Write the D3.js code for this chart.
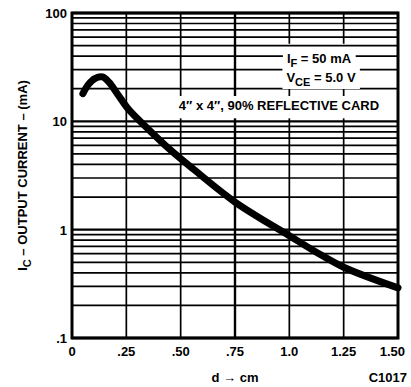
<!DOCTYPE html>
<meta charset="utf-8" />
<style>
  body { margin: 0; background: #fff; }
  text { font-family: "Liberation Sans", Arial, sans-serif; font-weight: bold; fill: #000; }
  .minor { stroke: #000; stroke-width: 1.7; }
  .major { stroke: #000; stroke-width: 2.4; }
  .frame { fill: none; stroke: #000; stroke-width: 3; }
  .curve { fill: none; stroke: #000; stroke-width: 7; stroke-linecap: round; stroke-linejoin: round; }
</style>
<body>
  <div id="chart"></div>
  <script src="https://d3js.org/d3.v7.min.js"></script>
  <script>
    // distance d (cm) vs output current Ic (mA)
    const dist = [0.05, 0.075, 0.105, 0.14, 0.17, 0.21, 0.26, 0.35, 0.45, 0.56, 0.75, 1.0, 1.13, 1.25, 1.5];
    const current = [18, 21.8, 24.8, 25.7, 23, 17.8, 12.9, 8.5, 5.5, 3.6, 1.8, 0.88, 0.61, 0.45, 0.29];

    const xTicks = [0, 0.25, 0.5, 0.75, 1.0, 1.25, 1.5];
    const xTickLabels = ["0", ".25", ".50", ".75", "1.0", "1.25", "1.50"];
    const yTicks = [0.1, 1, 10, 100];
    const yTickLabels = [".1", "1", "10", "100"];

    const W = 411, H = 387;
    const m = { top: 13, right: 13, bottom: 49, left: 72 };

    const svg = d3.select("#chart").append("svg")
      .attr("width", W).attr("height", H);

    const x = d3.scaleLinear().domain([0, 1.5]).range([m.left, W - m.right]);
    const y = d3.scaleLog().domain([0.1, 100]).range([H - m.bottom, m.top]);

    // minor log grid values 0.2..90
    const minorY = [];
    [0.1, 1, 10].forEach((dec) => {
      for (let k = 2; k <= 9; k++) minorY.push(dec * k);
    });

    const gGrid = svg.append("g");
    const gBack = svg.append("g");
    const gText = svg.append("g");

    // vertical grid
    gGrid.selectAll(".vline").data(xTicks.slice(1, -1)).enter().append("line")
      .attr("class", (d) => (d === 0.75 ? "major" : "minor"))
      .attr("x1", (d) => x(d)).attr("x2", (d) => x(d))
      .attr("y1", y(100)).attr("y2", y(0.1));

    // legend area hides vertical lines
    gGrid.append("rect")
      .attr("x", x(0.9)).attr("y", y(52))
      .attr("width", x(1.5) - x(0.9)).attr("height", y(21) - y(52))
      .attr("fill", "#fff");

    // horizontal grid
    gGrid.selectAll(".hminor").data(minorY).enter().append("line")
      .attr("class", "minor")
      .attr("x1", x(0)).attr("x2", x(1.5))
      .attr("y1", (d) => y(d)).attr("y2", (d) => y(d));
    gGrid.selectAll(".hmajor").data(yTicks).enter().append("line")
      .attr("class", "major")
      .attr("x1", x(0)).attr("x2", x(1.5))
      .attr("y1", (d) => y(d)).attr("y2", (d) => y(d));

    // legend texts with white backgrounds
    const legend = [
      { main: "I", sub: "F", rest: " = 50 mA", cx: 319, by: 63 },
      { main: "V", sub: "CE", rest: " = 5.0 V", cx: 321, by: 82 },
      { main: "4\u2033 x 4\u2033, 90% REFLECTIVE CARD", sub: "", rest: "", cx: 279, by: 110 }
    ];
    legend.forEach((l, i) => {
      const t = gText.append("text").attr("x", l.cx).attr("y", l.by)
        .attr("text-anchor", "middle").style("font-size", "13px");
      t.append("tspan").text(l.main);
      if (l.sub) {
        t.append("tspan").attr("dy", 4).style("font-size", "11px").text(l.sub);
        t.append("tspan").attr("dy", -4).text(l.rest);
      }
      const bb = t.node().getBBox();
      const padX = i === 2 ? 6 : 4;
      gBack.append("rect")
        .attr("fill", "#fff")
        .attr("x", bb.x - padX).attr("y", bb.y - 2)
        .attr("width", i === 2 ? x(1.5) - bb.x + padX : bb.width + padX * 2)
        .attr("height", i === 2 ? y(10) - bb.y - 1 : bb.height + 3);
    });

    // frame
    svg.append("rect").attr("class", "frame")
      .attr("x", x(0)).attr("y", y(100))
      .attr("width", x(1.5) - x(0)).attr("height", y(0.1) - y(100));

    // curve
    const line = d3.line()
      .x((d, i) => x(dist[i]))
      .y((d) => y(d))
      .curve(d3.curveCatmullRom);
    svg.append("path").attr("class", "curve").attr("d", line(current));

    // y tick labels
    svg.selectAll(".ylab").data(yTicks).enter().append("text")
      .attr("x", x(0) - 5).attr("y", (d) => y(d) + 5)
      .attr("text-anchor", "end").style("font-size", "13px")
      .text((d, i) => yTickLabels[i]);

    // x tick labels
    svg.selectAll(".xlab").data(xTicks).enter().append("text")
      .attr("x", (d) => x(d) + (d === 1.5 ? 7 : 0))
      .attr("y", y(0.1) + 18)
      .attr("text-anchor", (d) => (d === 1.5 ? "end" : "middle"))
      .style("font-size", "13px")
      .text((d, i) => xTickLabels[i]);

    // axis titles
    svg.append("text").attr("x", x(0.75)).attr("y", 382)
      .attr("text-anchor", "middle").style("font-size", "13px")
      .text("d \u2192  cm");
    svg.append("text").attr("x", 407).attr("y", 382)
      .attr("text-anchor", "end").style("font-size", "13px")
      .text("C1017");

    const yt = svg.append("text")
      .attr("transform", "translate(27," + (m.top + (H - m.bottom - m.top) / 2) + ") rotate(-90)")
      .attr("text-anchor", "middle").style("font-size", "13px");
    yt.append("tspan").text("I");
    yt.append("tspan").attr("dy", 4).style("font-size", "11px").text("C");
    yt.append("tspan").attr("dy", -4).text(" \u2013 OUTPUT CURRENT \u2013 (mA)");
  </script>
</body>
